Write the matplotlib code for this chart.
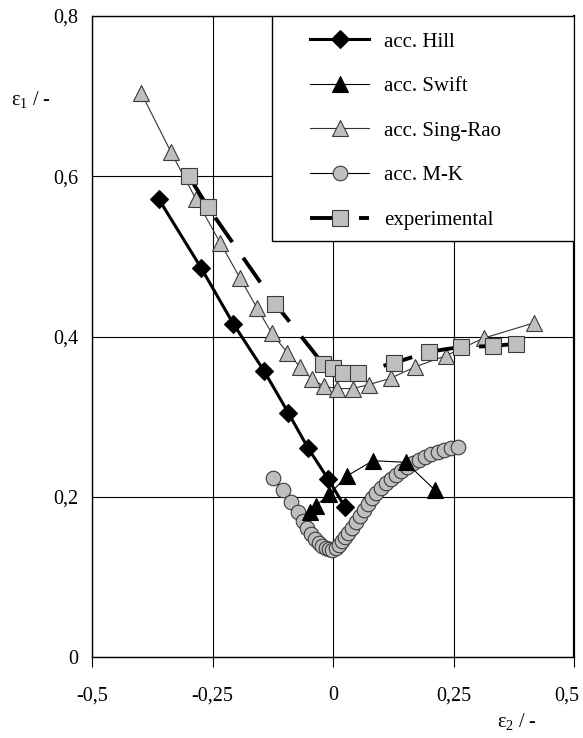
import matplotlib
matplotlib.use("Agg")
import matplotlib.pyplot as plt
from matplotlib.patches import Rectangle
from matplotlib.transforms import ScaledTranslation

plt.rcParams['font.family'] = ['Liberation Serif', 'DejaVu Serif']
plt.rcParams['mathtext.fontset'] = 'custom'
plt.rcParams['mathtext.rm'] = 'Liberation Serif'
plt.rcParams['mathtext.it'] = 'Liberation Serif:italic'

# ---- data (eps2, eps1) ----
hill_x = [-0.361, -0.274, -0.207, -0.143, -0.093, -0.052, -0.010, 0.025]
hill_y = [0.571, 0.486, 0.416, 0.357, 0.305, 0.261, 0.222, 0.187]

swift_x = [-0.048, -0.035, -0.008, 0.029, 0.083, 0.151, 0.212]
swift_y = [0.181, 0.189, 0.203, 0.226, 0.245, 0.243, 0.208]

singrao_x = [-0.398, -0.336, -0.284, -0.234, -0.193, -0.158, -0.127, -0.095, -0.068,
             -0.044, -0.019, 0.008, 0.041, 0.075, 0.120, 0.170, 0.234, 0.313, 0.417]
singrao_y = [0.704, 0.630, 0.571, 0.517, 0.473, 0.436, 0.404, 0.380, 0.362,
             0.347, 0.338, 0.335, 0.335, 0.340, 0.348, 0.362, 0.376, 0.398, 0.417]

mk_x = [-0.124, -0.104, -0.087, -0.073, -0.062, -0.054, -0.046, -0.037, -0.029, -0.023,
        -0.015, -0.008, -0.002, 0.006, 0.012, 0.019, 0.025, 0.031, 0.039, 0.048, 0.056,
        0.064, 0.073, 0.081, 0.089, 0.100, 0.110, 0.120, 0.131, 0.141, 0.154, 0.166,
        0.178, 0.191, 0.203, 0.218, 0.230, 0.245, 0.259]
mk_y = [0.223, 0.208, 0.194, 0.181, 0.170, 0.161, 0.154, 0.147, 0.142, 0.139,
        0.136, 0.135, 0.134, 0.136, 0.140, 0.145, 0.150, 0.155, 0.161, 0.169, 0.176,
        0.184, 0.191, 0.199, 0.205, 0.211, 0.217, 0.222, 0.227, 0.232, 0.237, 0.242,
        0.246, 0.250, 0.253, 0.256, 0.258, 0.261, 0.262]

exp_x = [-0.299, -0.259, -0.120, -0.021, 0.000, 0.021, 0.052, 0.127, 0.199, 0.266, 0.332, 0.380]
exp_y = [0.600, 0.561, 0.441, 0.366, 0.361, 0.355, 0.355, 0.367, 0.381, 0.387, 0.388, 0.391]

labels = ['acc. Hill', 'acc. Swift', 'acc. Sing-Rao', 'acc. M-K', 'experimental']

xticks = [-0.5, -0.25, 0, 0.25, 0.5]
xticklabels = ['-0,5', '-0,25', '0', '0,25', '0,5']
yticks = [0, 0.2, 0.4, 0.6, 0.8]
yticklabels = ['0', '0,2', '0,4', '0,6', '0,8']

gray = '#bfbfc2'
edge = '#3a3a3a'

fig = plt.figure(figsize=(5.83, 7.38), dpi=100)
ax = fig.add_axes([92/583, 1 - 657/738, 482/583, 641/738])
ax.set_xlim(-0.5, 0.5)
ax.set_ylim(0, 0.8)

h_sr, = ax.plot(singrao_x, singrao_y, '-', color='#333333', lw=0.8, marker='^', ms=12,
                mfc=gray, mec=edge, mew=0.8, zorder=3)
h_exp, = ax.plot(exp_x, exp_y, color='black', lw=2.8, dashes=(7.7, 4.9), marker='s', ms=11,
                 mfc=gray, mec=edge, mew=0.8, zorder=4)
h_mk, = ax.plot(mk_x, mk_y, '-', color='black', lw=0.8, marker='o', ms=10.5,
                mfc=gray, mec=edge, mew=0.8, zorder=5)
h_hill, = ax.plot(hill_x, hill_y, '-', color='black', lw=2.2, marker='D', ms=8.8,
                  mfc='black', mec='black', mew=0.8, zorder=6)
h_sw, = ax.plot(swift_x, swift_y, '-', color='black', lw=0.8, marker='^', ms=12,
                mfc='black', mec='black', mew=0.8, zorder=7)

ax.set_xticks(xticks)
ax.set_xticklabels(xticklabels, fontsize=14.5)
ax.set_yticks(yticks)
ax.set_yticklabels(yticklabels, fontsize=14.5)
ax.tick_params(axis='x', direction='out', length=7, width=0.8, pad=14)
ax.tick_params(axis='y', length=0, pad=10)
ax.grid(True, color='black', lw=0.8)
ax.set_axisbelow(True)
for s in ax.spines.values():
    s.set_linewidth(1.0)
ax.spines['right'].set_linewidth(1.6)

# shift last x tick label left so it stays inside the figure
last = ax.get_xticklabels()[-1]
last.set_transform(last.get_transform() + ScaledTranslation(-7/100, 0, fig.dpi_scale_trans))

# legend box
rect = Rectangle((0.373, 0.649), 0.627, 0.351, transform=ax.transAxes,
                 facecolor='white', edgecolor='black', lw=1.0, zorder=8)
ax.add_patch(rect)
leg = ax.legend([h_hill, h_sw, h_sr, h_mk, h_exp], labels, loc='upper left',
                bbox_to_anchor=(0.452, 0.975), frameon=False, fontsize=15,
                borderpad=0, handlelength=2.85, handletextpad=0.72, labelspacing=1.2,
                numpoints=1, borderaxespad=0)
leg.set_zorder(9)

fig.text(31/583, 1 - 100/738, 'ε$_1$ / -', fontsize=14.5, ha='center', va='center')
fig.text(517/583, 1 - 722/738, 'ε$_2$ / -', fontsize=14.5, ha='center', va='center')

fig.savefig('out.png', dpi=100)
